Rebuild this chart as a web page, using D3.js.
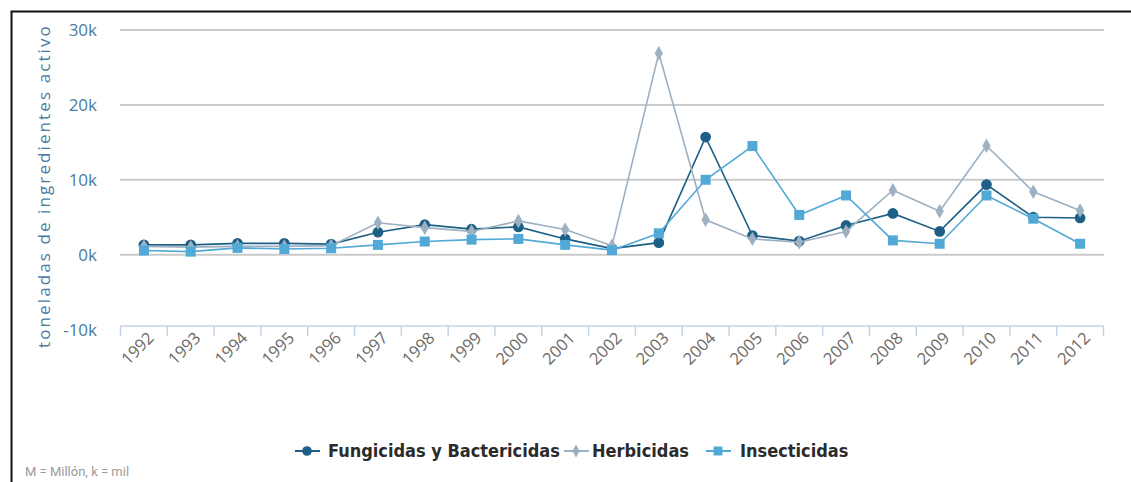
<!DOCTYPE html>
<html>
<head>
<meta charset="utf-8">
<script src="https://cdn.jsdelivr.net/npm/d3@7"></script>
<style>
  html, body { margin: 0; padding: 0; background: #fff; }
  svg { display: block; }
</style>
</head>
<body>
<svg id="chart" width="1131" height="482"></svg>
<script>
// datos
const years = ["1992","1993","1994","1995","1996","1997","1998","1999","2000","2001","2002",
  "2003","2004","2005","2006","2007","2008","2009","2010","2011","2012"];
const fungicidas = [1300,1300,1500,1500,1400,3000,4000,3400,3700,2100,800,1600,15700,2550,1800,3900,5500,3100,9350,5000,4900];
const herbicidas = [1100,1000,1100,1100,1200,4250,3600,3100,4500,3350,1200,26900,4650,2100,1650,3100,8600,5800,14550,8400,5900];
const insecticidas = [550,400,900,750,850,1300,1750,2000,2100,1300,600,2850,10000,14500,5300,7900,1900,1450,7900,4800,1450];
const yTicks = [-10000, 0, 10000, 20000, 30000];

const series = [
  { name: "Fungicidas y Bactericidas", values: fungicidas, color: "#1d5f86", symbol: d3.symbolCircle, size: 90 },
  { name: "Herbicidas", values: herbicidas, color: "#9db1c2", symbol: d3.symbolDiamond, size: 60 },
  { name: "Insecticidas", values: insecticidas, color: "#52a9d6", symbol: d3.symbolSquare, size: 100 }
];

const svg = d3.select("#chart");

// marco
svg.append("path")
  .attr("d", "M11.5,482 L11.5,11.5 L1131,11.5")
  .attr("fill", "none")
  .attr("stroke", "#111")
  .attr("stroke-width", 2);

const x = d3.scaleBand().domain(years).range([120.5, 1103.5]);
const y = d3.scaleLinear().domain([-10000, 30000]).range([329.5, 30]);

// rejilla
svg.append("g")
  .selectAll("line")
  .data(yTicks.filter(d => d > -10000))
  .enter()
  .append("line")
  .attr("x1", 120).attr("x2", 1104)
  .attr("y1", d => y(d)).attr("y2", d => y(d))
  .attr("stroke", "#cacaca")
  .attr("stroke-width", 2);

// eje y
const yAxis = d3.axisLeft(y).tickValues(yTicks).tickSize(0).tickPadding(0)
  .tickFormat(d => (d / 1000) + "k");
svg.append("g")
  .attr("transform", "translate(97,0)")
  .call(yAxis)
  .call(g => g.select(".domain").remove())
  .selectAll("text")
  .attr("font-family", "'Open Sans', sans-serif")
  .attr("font-size", 17)
  .attr("fill", "#4a7ca3")
  .attr("dy", "0.35em");

svg.append("text")
  .attr("transform", "translate(50,186) rotate(-90)")
  .attr("text-anchor", "middle")
  .attr("font-family", "'Open Sans', sans-serif")
  .attr("font-size", 17)
  .attr("letter-spacing", 2.1)
  .attr("fill", "#4a7ca3")
  .text("toneladas de ingredientes activo");

// eje x
const xAxisG = svg.append("g").attr("transform", "translate(0,326)");
xAxisG.append("line")
  .attr("x1", 120).attr("x2", 1104)
  .attr("stroke", "#c4d4e3").attr("stroke-width", 1.5);
xAxisG.selectAll("line.tick")
  .data(years.concat(["end"]))
  .enter()
  .append("line")
  .attr("class", "tick")
  .attr("x1", (d, i) => i < years.length ? x(d) : x.range()[1])
  .attr("x2", (d, i) => i < years.length ? x(d) : x.range()[1])
  .attr("y1", 0).attr("y2", 10)
  .attr("stroke", "#c4d4e3").attr("stroke-width", 1.5);
xAxisG.selectAll("text")
  .data(years)
  .enter()
  .append("text")
  .attr("transform", d => `translate(${x(d) + x.bandwidth() / 2 + 11},${13}) rotate(-45)`)
  .attr("text-anchor", "end")
  .attr("font-family", "'Open Sans', sans-serif")
  .attr("font-size", 16.5)
  .attr("fill", "#6e6a66")
  .text(d => d);

// series
const cx = d => x(d) + x.bandwidth() / 2;
const line = d3.line()
  .x((d, i) => cx(years[i]))
  .y(d => y(d));

series.forEach(s => {
  const g = svg.append("g");
  g.append("path")
    .datum(s.values)
    .attr("d", line)
    .attr("fill", "none")
    .attr("stroke", s.color)
    .attr("stroke-width", 1.6);
  g.selectAll("path.marker")
    .data(s.values)
    .enter()
    .append("path")
    .attr("class", "marker")
    .attr("transform", (d, i) => `translate(${cx(years[i])},${y(d)})`)
    .attr("d", d3.symbol().type(s.symbol).size(s.size))
    .attr("fill", s.color);
});

// leyenda
const legendPos = [
  { sx: 307, tx: 328 },
  { sx: 576, tx: 592 },
  { sx: 718, tx: 740 }
];
const legend = svg.append("g").attr("transform", "translate(0,451)");
series.forEach((s, i) => {
  const p = legendPos[i];
  legend.append("line")
    .attr("x1", p.sx - 12).attr("x2", p.sx + 13)
    .attr("stroke", s.color).attr("stroke-width", 2);
  legend.append("path")
    .attr("transform", `translate(${p.sx},0)`)
    .attr("d", d3.symbol().type(s.symbol).size(s.size * 0.8))
    .attr("fill", s.color);
  legend.append("text")
    .attr("x", p.tx).attr("dy", "0.35em")
    .attr("font-family", "'DejaVu Sans Condensed', 'DejaVu Sans', sans-serif")
    .attr("font-stretch", "condensed")
    .attr("font-weight", "bold")
    .attr("font-size", 18)
    .attr("fill", "#2b2b2b")
    .text(s.name);
});

svg.append("text")
  .attr("x", 25).attr("y", 476)
  .attr("font-family", "Roboto, sans-serif")
  .attr("font-size", 13)
  .attr("fill", "#9a9a9a")
  .text("M = Millón, k = mil");
</script>
</body>
</html>
